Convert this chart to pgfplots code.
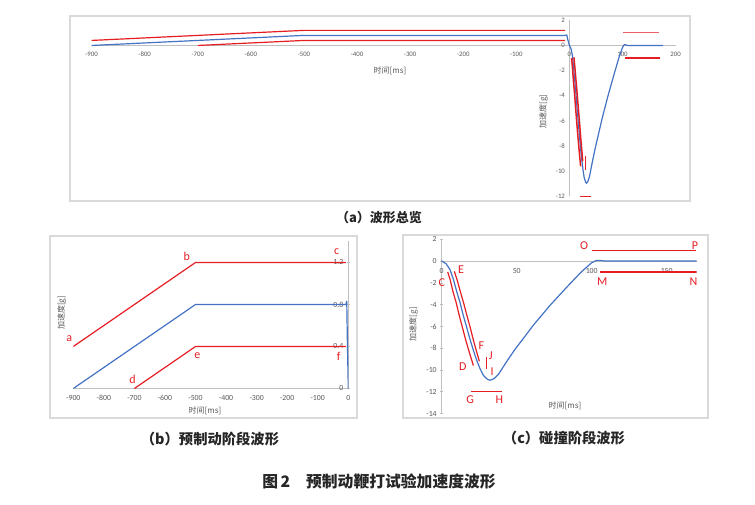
\documentclass[border=0pt]{standalone}
\usepackage{fontspec}
\setmainfont{Carlito}
\newfontfamily\cjk{Noto Sans CJK SC}
\usepackage{pgfplots}
\usepackage{pgfplotstable}
\pgfplotsset{compat=1.18}
\definecolor{xred}{RGB}{230,30,36}
\definecolor{xblue}{RGB}{68,114,196}
\definecolor{framegray}{RGB}{217,217,217}
\definecolor{axgray}{RGB}{191,191,191}
\definecolor{tickgray}{RGB}{89,89,89}

\pgfplotstableread{
x y
-900 0
-500 0.8
-8 0.8
-5 0.83
-3 0.45
0 0
3 -0.25
5.6 -0.8
7.8 -1.7
10 -2.8
12.2 -3.8
14.4 -5.0
16.7 -6.1
18.9 -7.2
21.1 -8.2
23.3 -9.1
25.6 -9.9
27.8 -10.5
30.4 -10.85
32.2 -10.95
34.9 -10.8
37.8 -10.4
41.1 -9.7
44.4 -9.0
48.9 -8.1
55 -7.0
61 -5.9
72 -4.1
83 -2.45
93 -1.0
100 -0.15
103 0.05
106 0.05
109 0
176 0
}\blueT
\pgfplotstableread{
x y
-900 0.4
-500 1.2
-8 1.2
}\redUp
\pgfplotstableread{
x y
-700 0
-500 0.4
-8 0.4
}\redLo
\pgfplotstableread{
x y
4 -1
5.6 -1.7
7.5 -2.8
9.6 -3.8
11.7 -5
13.8 -6.1
15.9 -7.2
18 -8.2
20 -9.1
21.1 -9.6
}\redCD
\pgfplotstableread{
x y
8.4 -0.94
10.2 -1.7
12.4 -2.8
14.5 -3.8
16.8 -5
19 -6.1
21 -7.2
23 -8.2
25.1 -9.2
}\redEF
\pgfplotstableread{
x y
30 -8.8
30 -9.9
}\redIJ
\pgfplotstableread{
x y
19.6 -12
40 -12
}\redGH
\pgfplotstableread{
x y
100 1
169.6 1
}\redOP
\pgfplotstableread{
x y
105.6 -1
170 -1
}\redMN

\pgfplotsset{
  panel/.style={
    scale only axis, anchor=south west,
    axis lines=middle,
    axis line style={axgray, line width=0.8pt, -},
    every inner x axis line/.append style={-},
    every inner y axis line/.append style={-},
    tick style={axgray, line width=0.6pt},
    tick label style={text=tickgray},
    extra x ticks={0}, extra y ticks={0},
    /pgf/number format/assume math mode=true,
    clip mode=individual,
    every axis plot/.append style={line width=1.2pt, line join=round},
  },
}
\tikzset{
  lab/.style={text=xred, font=\fontsize{12}{14}\selectfont, inner sep=0pt},
  axlab/.style={text=tickgray, font=\cjk\fontsize{8}{9}\selectfont, inner sep=0pt},
}

\begin{document}
\begin{tikzpicture}
\useasboundingbox (0,0) rectangle (755pt,504pt);
\fill[white] (0,0) rectangle (755pt,504pt);
% frames
\draw[framegray, line width=1.3pt] (70pt,488pt) rectangle (690pt,303pt);
\draw[framegray, line width=1.3pt] (50pt,268pt) rectangle (357pt,86pt);
\draw[framegray, line width=1.3pt] (403pt,269pt) rectangle (708pt,86pt);

% (a)
\begin{axis}[panel, at={(91.6pt,307.5pt)}, width=584pt, height=176.2pt,
  xmin=-900, xmax=200, ymin=-12, ymax=2,
  xtick={-900,-800,...,200}, ytick={-12,-10,...,2},
  major tick length=0pt,
  tick label style={font=\fontsize{6.8}{8}\selectfont},
  xticklabel style={yshift=-3pt}, yticklabel style={xshift=-1pt}]
\addplot[xblue, no marks] table {\blueT};
\addplot[xred, no marks] table {\redUp};
\addplot[xred, no marks] table {\redLo};
\addplot[xred, no marks, line width=1.5pt] table {\redCD};
\addplot[xred, no marks, line width=1.5pt] table {\redEF};
\addplot[xred, no marks, line width=1.5pt] table {\redIJ};
\addplot[xred, no marks, line width=1.5pt] table {\redGH};
\addplot[xred!70, no marks] table {\redOP};
\addplot[xred, no marks, line width=1.5pt] table {\redMN};
\node[axlab] at (axis cs:-338,-2.0) {时间[ms]};
\node[axlab, rotate=90] at (axis cs:-49,-5.25) {加速度[g]};
\end{axis}

% (b)
\begin{axis}[panel, at={(73.3pt,115.5pt)}, width=275pt, height=147pt,
  xmin=-900, xmax=0, ymin=0, ymax=1.4,
  xtick={-900,-800,...,-100}, ytick={0.4,0.8,1.2},
  xtick style={draw=none},
  major tick length=3pt,
  tick label style={font=\fontsize{7.8}{9}\selectfont},
  xticklabel style={yshift=-2pt}]
\addplot[xblue, no marks] table {\blueT};
\addplot[xred, no marks] table {\redUp};
\addplot[xred, no marks] table {\redLo};
\node[axlab] at (axis cs:-469,-0.214) {时间[ms]};
\node[axlab, rotate=90] at (axis cs:-938,0.72) {加速度[g]};
\node[lab] at (axis cs:-913,0.478) {a};
\node[lab] at (axis cs:-529,1.262) {b};
\node[lab] at (axis cs:-38,1.303) {c};
\node[lab] at (axis cs:-706,0.09) {d};
\node[lab] at (axis cs:-494,0.31) {e};
\node[lab] at (axis cs:-31,0.31) {f};
\end{axis}

% (c)
\begin{axis}[panel, at={(441.7pt,90.5pt)}, width=255pt, height=174.2pt,
  xmin=0, xmax=170, ymin=-14, ymax=2,
  xtick={50,100,150}, ytick={-14,-12,...,-2,2},
  xtick style={draw=none},
  major tick length=3pt,
  tick label style={font=\fontsize{7.8}{9}\selectfont},
  xticklabel style={yshift=-2.5pt}]
\addplot[xblue, no marks] table {\blueT};
\addplot[xred, no marks] table {\redCD};
\addplot[xred, no marks] table {\redEF};
\addplot[xred, no marks] table {\redIJ};
\addplot[xred, no marks] table {\redGH};
\addplot[xred, no marks] table {\redOP};
\addplot[xred, no marks] table {\redMN};
\node[axlab] at (axis cs:82.2,-13.3) {时间[ms]};
\node[axlab, rotate=90] at (axis cs:-18.9,-5.8) {加速度[g]};
\node[lab] at (axis cs:0,-2.0) {C};
\node[lab] at (axis cs:12.9,-0.79) {E};
\node[lab] at (axis cs:14,-9.7) {D};
\node[lab] at (axis cs:26.4,-7.8) {F};
\node[lab] at (axis cs:32.7,-8.7) {J};
\node[lab] at (axis cs:33.6,-10.2) {I};
\node[lab] at (axis cs:18.9,-12.7) {G};
\node[lab] at (axis cs:38.4,-12.7) {H};
\node[lab] at (axis cs:94.9,1.4) {O};
\node[lab] at (axis cs:168.9,1.4) {P};
\node[lab] at (axis cs:107.1,-1.85) {M};
\node[lab] at (axis cs:167.8,-1.85) {N};
\end{axis}

% captions
\node[font=\cjk\bfseries\fontsize{13}{15}\selectfont, text=black!85] at (379pt,286pt) {（a）波形总览};
\node[font=\cjk\bfseries\fontsize{14.3}{16}\selectfont, text=black!85] at (210pt,65pt) {（b）预制动阶段波形};
\node[font=\cjk\bfseries\fontsize{14.3}{16}\selectfont, text=black!85] at (564pt,66pt) {（c）碰撞阶段波形};
\node[font=\cjk\bfseries\fontsize{15.8}{18}\selectfont, text=black!85] at (379pt,22.3pt) {图\,2\hspace{1em}预制动鞭打试验加速度波形};
\end{tikzpicture}
\end{document}
